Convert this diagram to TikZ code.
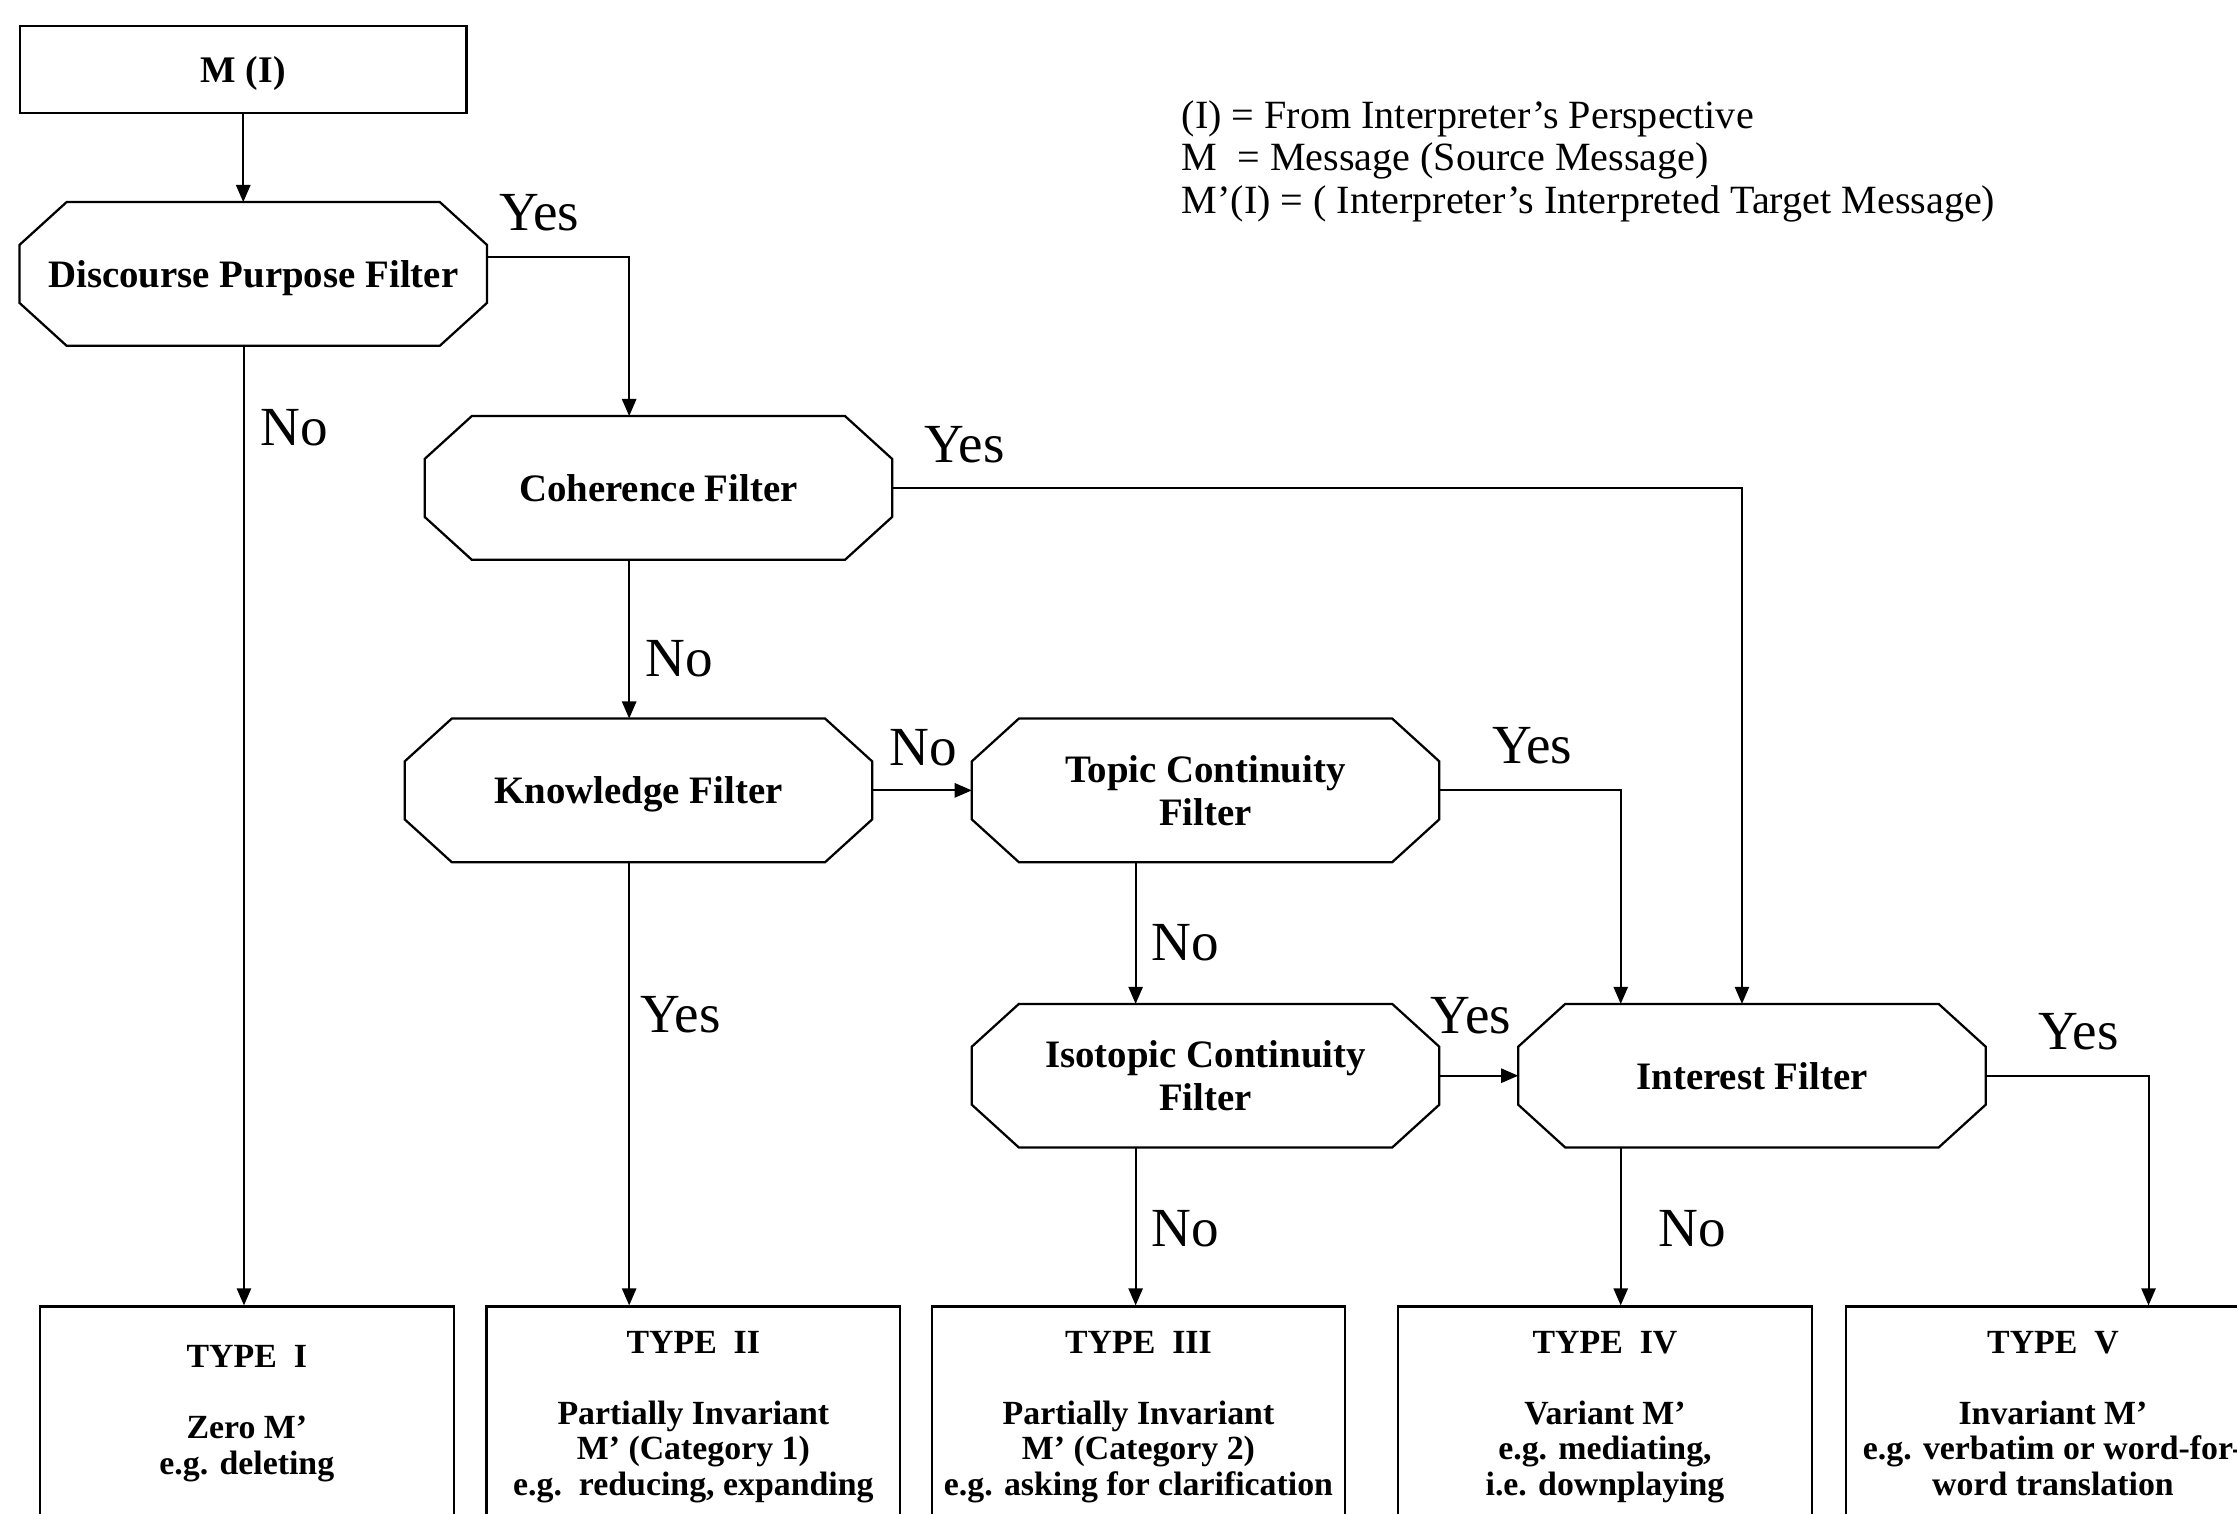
\documentclass[tikz,border=0pt]{standalone}
\usepackage{fontspec}
\setmainfont{Liberation Serif}
\usetikzlibrary{arrows.meta}

\begin{document}
\begin{tikzpicture}[x=0.02cm, y=-0.02cm,
        filter/.style={minimum width=6.54cm, minimum height=2cm, inner sep=0pt, text depth=0pt, align=center, font={\fontsize{15.5}{17}\selectfont\bfseries}},
        typebox/.style={draw=black, line width=0.9pt, anchor=north, minimum width=5.8cm, minimum height=3cm, align=center, font={\fontsize{13.5}{14.2}\selectfont\bfseries}},
        answer/.style={inner sep=0pt, font={\fontsize{22}{24}\selectfont}},
        flow/.style={black, line width=0.8pt, -{Triangle[length=2.4mm, width=2mm]}}]
        \useasboundingbox (0,0) rectangle (1568,1061);
        \node[draw=black, line width=0.9pt, minimum width=6.26cm, minimum height=1.22cm, text depth=0pt, font={\fontsize{15}{17}\selectfont\bfseries}] (mi) at (170.5,48.5) {M (I)};
        \node[anchor=west, align=left, inner sep=0pt, font={\fontsize{16}{17}\selectfont}] (legend) at (828,113) {(I) = From Interpreter’s Perspective\\M\ \ = Message (Source Message)\\M’(I) = ( Interpreter’s Interpreted Target Message)};
        \node[filter] (dpf) at (177.5,192) {Discourse Purpose Filter};
        \node[filter] (coh) at (461.5,342) {Coherence Filter};
        \node[filter] (know) at (447.5,554) {Knowledge Filter};
        \node[filter] (topic) at (845,554) {Topic Continuity\\Filter};
        \node[filter] (iso) at (845,754) {Isotopic Continuity\\Filter};
        \node[filter] (inter) at (1228,754) {Interest Filter};
        \foreach \f in {dpf,coh,know,topic,iso,inter}
            \draw[black, line width=0.9pt] ([xshift=0.66cm]\f.north west) -- ([xshift=-0.66cm]\f.north east) -- ([yshift=-0.6cm]\f.north east) -- ([yshift=0.6cm]\f.south east) -- ([xshift=-0.66cm]\f.south east) -- ([xshift=0.66cm]\f.south west) -- ([yshift=0.6cm]\f.south west) -- ([yshift=-0.6cm]\f.north west) -- cycle;
        \node[typebox] (t1) at (173,915) {TYPE\ \ I\\[14pt]Zero M’\\e.g. deleting};
        \node[typebox, text depth=0pt] (t2) at (486,915) {TYPE\ \ II\\[14pt]Partially Invariant\\M’ (Category 1)\\e.g.\ \ reducing, expanding};
        \node[typebox, text depth=0pt] (t3) at (798,915) {TYPE\ \ III\\[14pt]Partially Invariant\\M’ (Category 2)\\e.g. asking for clarification};
        \node[typebox, text depth=0pt] (t4) at (1125,915) {TYPE\ \ IV\\[14pt]Variant M’\\e.g. mediating,\\i.e. downplaying};
        \node[typebox] (t5) at (1439,915) {TYPE\ \ V\\[14pt]Invariant M’\\e.g. verbatim or word-for-\\word translation};
        \draw[flow] (mi.south) -- (mi.south |- dpf.north);
        \draw[flow] ([yshift=0.24cm]dpf.east) -| ([xshift=-0.41cm]coh.north);
        \draw[flow] ([xshift=-0.13cm]dpf.south) -- ([xshift=-0.13cm]dpf.south |- t1.north);
        \draw[flow] ([xshift=-0.41cm]coh.south) -- ([xshift=-0.41cm]coh.south |- know.north);
        \draw[flow] (coh.east) -| ([xshift=-0.14cm]inter.north);
        \draw[flow] (know.east) -- (topic.west);
        \draw[flow] ([xshift=-0.13cm]know.south) -- ([xshift=-0.13cm]know.south |- t2.north);
        \draw[flow] (topic.east) -| ([xshift=-1.84cm]inter.north);
        \draw[flow] ([xshift=-0.98cm]topic.south) -- ([xshift=-0.98cm]iso.north);
        \draw[flow] (iso.east) -- (inter.west);
        \draw[flow] ([xshift=-0.98cm]iso.south) -- ([xshift=-0.98cm]iso.south |- t3.north);
        \draw[flow] ([xshift=-1.84cm]inter.south) -- ([xshift=-1.84cm]inter.south |- t4.north);
        \draw[flow] (inter.east) -| ([xshift=1.34cm]t5.north);
        \node[answer] (yes1) at (378,149) {Yes};
        \node[answer] (no1) at (206,300) {No};
        \node[answer] (yes2) at (676,312) {Yes};
        \node[answer] (no2) at (476,462) {No};
        \node[answer] (no3) at (647,524) {No};
        \node[answer] (yes3) at (477,711) {Yes};
        \node[answer] (yes4) at (1074,523) {Yes};
        \node[answer] (no4) at (831,661) {No};
        \node[answer] (yes5) at (1031,712) {Yes};
        \node[answer] (no5) at (831,861) {No};
        \node[answer] (no6) at (1186,861) {No};
        \node[answer] (yes6) at (1457,723) {Yes};
\end{tikzpicture}
\end{document}
